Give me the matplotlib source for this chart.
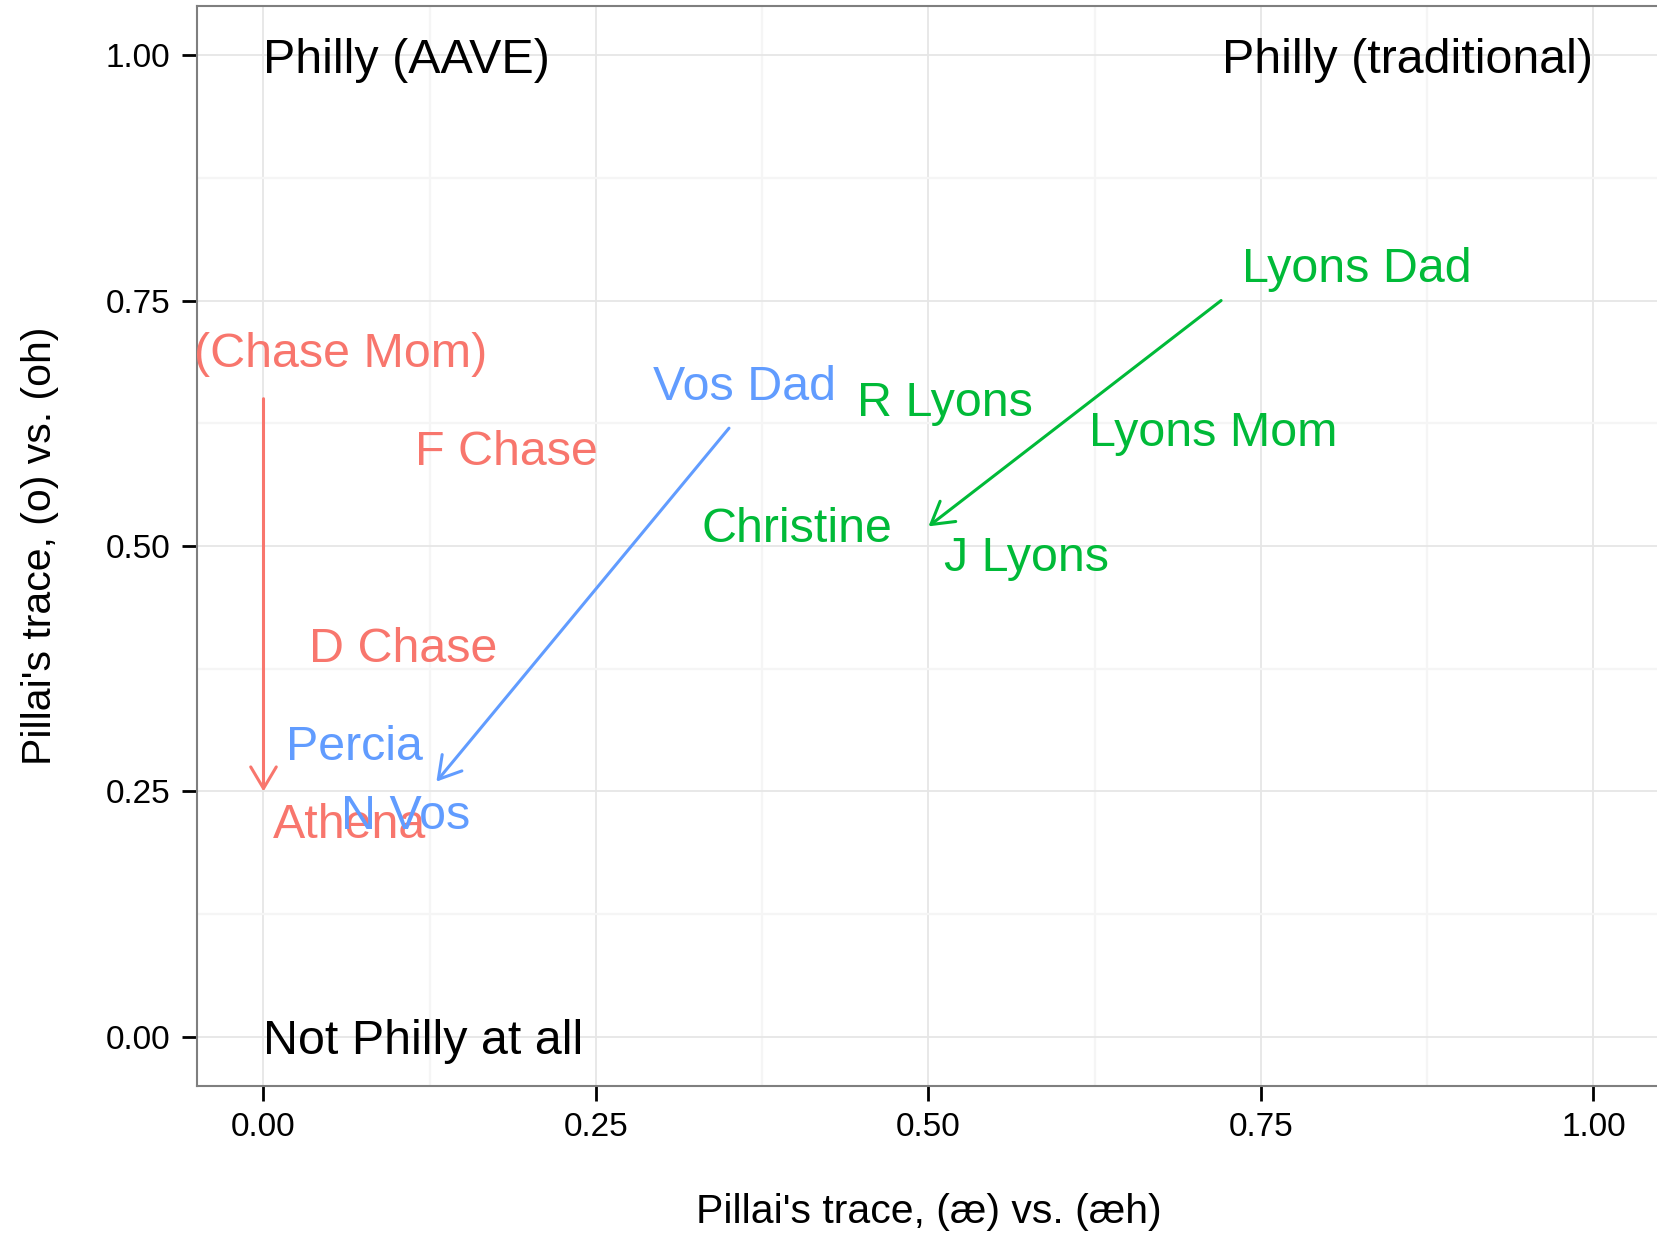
#!/usr/bin/env python3
import matplotlib
matplotlib.use("Agg")
import matplotlib.pyplot as plt
from matplotlib.ticker import MultipleLocator

# speakers, placed by Pillai's trace for the two mergers
speakers = ["(Chase Mom)", "F Chase", "D Chase", "Athena",
            "Vos Dad", "Percia", "N Vos",
            "Lyons Dad", "R Lyons", "Lyons Mom", "Christine", "J Lyons"]
families = ["Chase", "Chase", "Chase", "Chase",
            "Vos", "Vos", "Vos",
            "Lyons", "Lyons", "Lyons", "Lyons", "Lyons"]
pillai_ae = [0.058, 0.1825, 0.105, 0.065,
             0.362, 0.068, 0.107,
             0.822, 0.512, 0.714, 0.401, 0.574]
pillai_oh = [0.70, 0.60, 0.40, 0.22,
             0.667, 0.30, 0.23,
             0.787, 0.65, 0.62, 0.522, 0.492]

# parent -> child shifts, one arrow per family
arrow_family = ["Chase", "Vos", "Lyons"]
arrow_x0 = [0.0, 0.35, 0.72]
arrow_y0 = [0.65, 0.62, 0.75]
arrow_x1 = [0.0, 0.13, 0.50]
arrow_y1 = [0.25, 0.26, 0.52]

# corner notes
note_text = ["Philly (AAVE)", "Philly (traditional)", "Not Philly at all"]
note_x = [0.0, 1.0, 0.0]
note_y = [1.0, 1.0, 0.0]
note_ha = ["left", "right", "left"]

family_colors = {"Chase": "#F8766D", "Lyons": "#00BA38", "Vos": "#619CFF"}

plt.rcParams["font.family"] = ["Liberation Sans", "DejaVu Sans"]

fig = plt.figure(figsize=(16.58, 12.36), dpi=100)
ax = fig.add_axes([197 / 1658, 1 - 1086 / 1236, 1463 / 1658, 1080 / 1236])

ax.set_xlim(-0.05, 1.05)
ax.set_ylim(-0.05, 1.05)
ax.xaxis.set_major_locator(MultipleLocator(0.25))
ax.yaxis.set_major_locator(MultipleLocator(0.25))
ax.xaxis.set_minor_locator(MultipleLocator(0.125))
ax.yaxis.set_minor_locator(MultipleLocator(0.125))
ax.xaxis.set_major_formatter(lambda v, p: f"{v:.2f}")
ax.yaxis.set_major_formatter(lambda v, p: f"{v:.2f}")

ax.grid(which="major", color="#E6E6E6", linewidth=1.3, zorder=0)
ax.grid(which="minor", color="#F5F5F5", linewidth=1.6, zorder=0)
ax.set_axisbelow(True)

ax.tick_params(which="major", length=11, width=2.0, color="black",
               labelsize=24, labelcolor="black", pad=8)
ax.tick_params(which="minor", length=0)
for sp in ax.spines.values():
    sp.set_color("#7F7F7F")
    sp.set_linewidth(1.5)

for fam, x0, y0, x1, y1 in zip(arrow_family, arrow_x0, arrow_y0, arrow_x1, arrow_y1):
    ax.annotate("", xy=(x1, y1), xytext=(x0, y0),
                arrowprops=dict(arrowstyle="->,head_length=15.5,head_width=9.2",
                                mutation_scale=1, color=family_colors[fam],
                                lw=2.2, shrinkA=0, shrinkB=0),
                zorder=3)

for name, fam, x, y in zip(speakers, families, pillai_ae, pillai_oh):
    ax.text(x, y, name, color=family_colors[fam], fontsize=34.8,
            ha="center", va="center_baseline", zorder=4)

for txt, x, y, ha in zip(note_text, note_x, note_y, note_ha):
    ax.text(x, y, txt, color="black", fontsize=34.8,
            ha=ha, va="center_baseline", zorder=4)

ax.set_xlabel("Pillai's trace, (æ) vs. (æh)", fontsize=29.5, va="baseline")
ax.xaxis.set_label_coords(0.5, -0.1269)
ax.set_ylabel("Pillai's trace, (o) vs. (oh)", fontsize=29.5, va="baseline")
ax.yaxis.set_label_coords(-0.0998, 0.5)

fig.savefig("out.png", dpi=100)
